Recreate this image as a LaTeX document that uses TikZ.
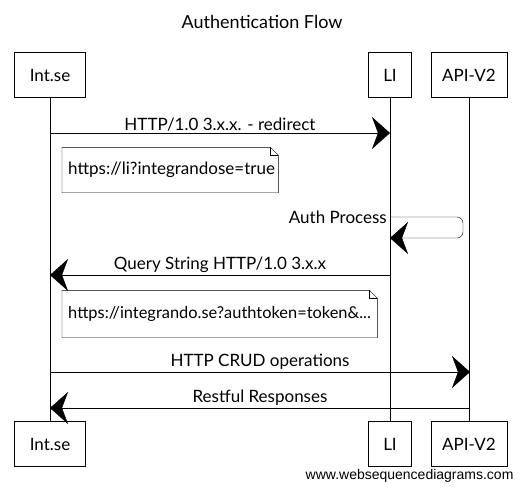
\documentclass[tikz,border=0pt]{standalone}
\usepackage{fontspec}
\setmainfont{Lato}
\newfontfamily\wsdfont{Liberation Sans}
\usetikzlibrary{arrows.meta,positioning}

\begin{document}
\begin{tikzpicture}[x=1pt, y=-1pt,
  font=\fontsize{17}{19}\selectfont,
  actor/.style={draw, minimum height=45pt, inner sep=2pt},
  msg/.style={-{Stealth[length=18pt, width=32pt, inset=6pt]}},
  note/.style={minimum height=45pt, inner sep=6pt, align=left},
  lbl/.style={above, inner sep=2pt}]
\useasboundingbox (0,0) rectangle (523,491);
\node[font=\fontsize{18}{20}\selectfont] (title) at (262,22) {Authentication Flow};
% participants
\node[actor, minimum width=71pt] (int-top) at (50,75) {Int.se};
\node[actor, minimum width=43pt] (li-top) at (390,75) {LI};
\node[actor, minimum width=76pt] (api-top) at (469,75) {API-V2};
\node[actor, minimum width=71pt] (int-bot) at (50,444) {Int.se};
\node[actor, minimum width=43pt] (li-bot) at (390,444) {LI};
\node[actor, minimum width=76pt] (api-bot) at (469,444) {API-V2};
\draw (int-top) -- (int-bot);
\draw (li-top) -- (li-bot);
\draw (api-top) -- (api-bot);
% message ends
\coordinate (int-1) at (50,133);
\coordinate (li-1) at (390,133);
\coordinate (li-2) at (390,217);
\coordinate (li-3) at (390,238);
\coordinate (li-4) at (390,275);
\coordinate (int-4) at (50,275);
\coordinate (int-5) at (50,372);
\coordinate (api-5) at (470,372);
\coordinate (api-6) at (470,408);
\coordinate (int-6) at (50,408);
\path[msg]
(int-1) edge node[lbl] {HTTP/1.0 3.x.x. - redirect} (li-1)
(li-4) edge node[lbl] {Query String HTTP/1.0 3.x.x} (int-4)
(int-5) edge node[lbl] {HTTP CRUD operations} (api-5)
(api-6) edge node[lbl] {Restful Responses} (int-6);
\draw[msg, rounded corners=6pt] (li-2) -- ++(73,0) |- (li-3);
\node[anchor=east, inner sep=3pt] (auth) at (li-2) {Auth Process};
% notes
\node[note, text width=204pt, anchor=west] (note-1) at (62,170) {https://li?integrandose=true};
\node[note, text width=303pt, minimum height=47pt, anchor=west, font=\fontsize{16.4}{19}\selectfont] (note-2) at (62,314) {https://integrando.se?authtoken=token\&...};
\foreach \n in {note-1, note-2} {
  \draw (\n.north west) -- ([xshift=-8pt]\n.north east) -- ([yshift=-8pt]\n.north east)
    -- (\n.south east) -- (\n.south west) -- cycle;
  \draw ([xshift=-8pt]\n.north east) |- ([yshift=-8pt]\n.north east);
}
\node[font=\wsdfont\fontsize{14}{16}\selectfont, anchor=east] (wsd) at (517,476) {www.websequencediagrams.com};
\end{tikzpicture}
\end{document}
